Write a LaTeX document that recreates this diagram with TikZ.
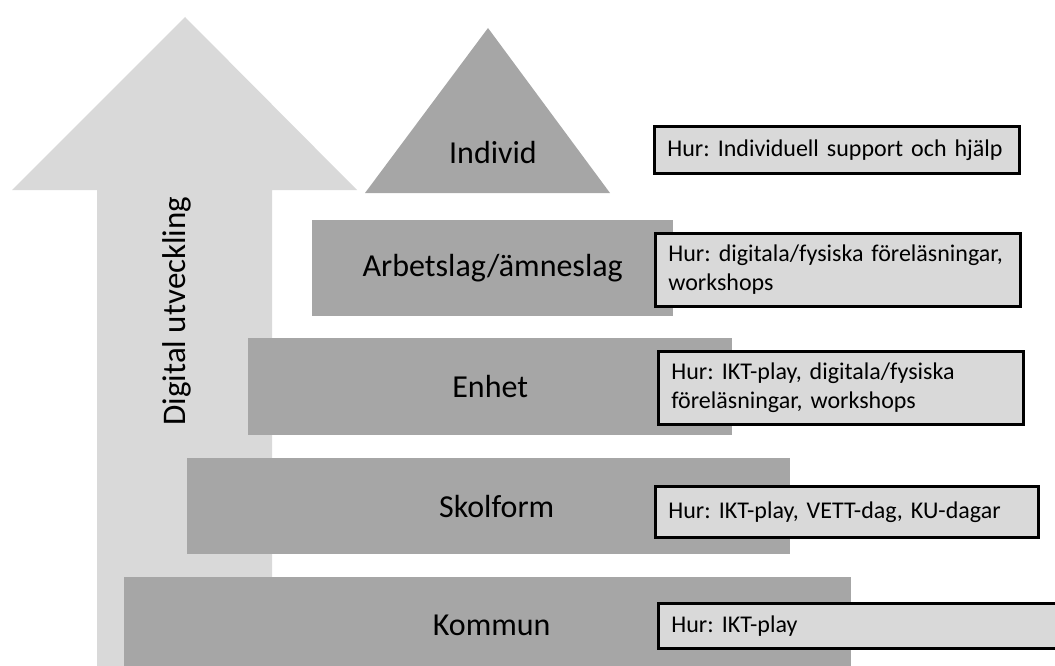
\documentclass[tikz,border=0pt]{standalone}
\usepackage{fontspec}
\setmainfont{Carlito}
\usepackage{tikz}
\usetikzlibrary{positioning}
\frenchspacing

\begin{document}
\begin{tikzpicture}[
    x=1pt, y=-1pt,
    bar/.style={fill=darkG, anchor=north west, inner sep=0pt,
                font=\fontsize{32}{38}\selectfont},
    hurbox/.style={draw, line width=2.8pt, fill=lightG, anchor=north west,
                   inner xsep=13pt, inner ysep=2pt, text width=339pt, align=left,
                   font=\fontsize{24}{29}\selectfont},
]

% Color definitions
\definecolor{lightG}{RGB}{217,217,217}
\definecolor{darkG}{RGB}{166,166,166}

\useasboundingbox (0,0) rectangle (1055,666);

% Big arrow
\fill[lightG] (185,17) -- (357,190) -- (272,190) -- (272,690) -- (97,690)
  -- (97,190) -- (12,190) -- cycle;
\node[rotate=90, font=\fontsize{33}{38}\selectfont] (dev) at (177,311) {Digital utveckling};

% Levels top to bottom
\fill[darkG] (488,28) -- (610,193) -- (365,193) -- cycle;
\node[font=\fontsize{32}{38}\selectfont] (indiv) at (493,153) {Individ};

\node[bar, minimum width=361pt, minimum height=96pt] (arb) at (312,220) {Arbetslag/ämneslag};
\node[bar, minimum width=484pt, minimum height=97pt] (enh) at (248,338) {Enhet};
\node[bar, minimum width=603pt, minimum height=96pt] (skol) at (187,458) {\hspace{16pt}Skolform};
\node[bar, minimum width=727pt, minimum height=96pt] (kom) at (124,577) {\hspace{8pt}Kommun};

% How boxes
\node[hurbox, minimum height=47pt] (hIndiv) at (653,125)
  {\mbox{Hur: Individuell support och hjälp}};
\node[hurbox, minimum height=73pt] (hArb) at (654,232)
  {\mbox{Hur: digitala/fysiska föreläsningar,}\\ workshops};
\node[hurbox, minimum height=73pt] (hEnh) at (657,350)
  {Hur: IKT-play, digitala/fysiska\\ föreläsningar, workshops};
\node[hurbox, minimum height=51pt, text width=357pt] (hSkol) at (654,485)
  {Hur: IKT-play, VETT-dag, KU-dagar};
\node[hurbox, minimum height=45pt, text width=389pt] (hKom) at (657,602)
  {Hur: IKT-play};

\end{tikzpicture}
\end{document}
